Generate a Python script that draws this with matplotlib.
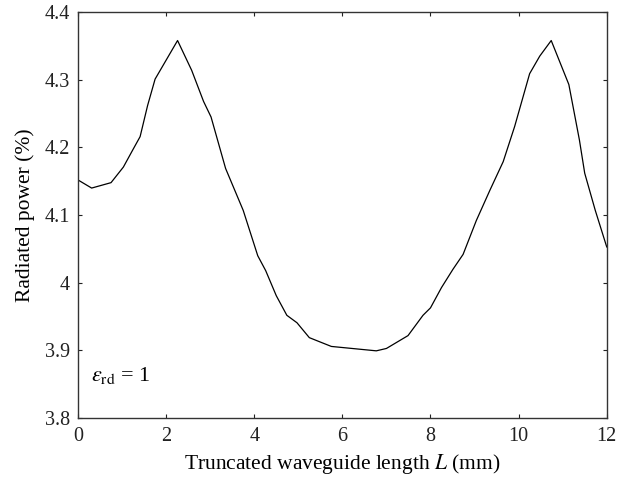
import numpy as np
import matplotlib
matplotlib.use("Agg")
from matplotlib import pyplot as plt

# Data
length_mm = [0.0, 0.31, 0.75, 1.03, 1.24, 1.41, 1.58, 1.75, 2.26, 2.58, 2.85, 3.02,
             3.35, 3.75, 4.08, 4.26, 4.50, 4.74, 4.97, 5.25, 5.48, 5.75, 6.77, 7.0,
             7.49, 7.83, 8.0, 8.25, 8.51, 8.74, 9.04, 9.35, 9.65, 9.91, 10.25, 10.48,
             10.74, 11.14, 11.38, 11.5, 11.74, 12.0]
power_pct = [4.152, 4.140, 4.148, 4.171, 4.196, 4.216, 4.262, 4.301, 4.358, 4.314, 4.268, 4.245,
             4.169, 4.107, 4.040, 4.018, 3.981, 3.952, 3.941, 3.919, 3.913, 3.906, 3.8995, 3.903,
             3.922, 3.952, 3.963, 3.993, 4.020, 4.042, 4.092, 4.137, 4.179, 4.231, 4.309, 4.335,
             4.358, 4.293, 4.211, 4.162, 4.107, 4.053]
x_ticks = [0, 2, 4, 6, 8, 10, 12]
y_ticks = [3.8, 3.9, 4.0, 4.1, 4.2, 4.3, 4.4]
y_tick_labels = ['3.8', '3.9', '4', '4.1', '4.2', '4.3', '4.4']

plt.rcParams['font.family'] = ['Liberation Serif', 'DejaVu Serif']
plt.rcParams['mathtext.fontset'] = 'stix'

fig = plt.figure(figsize=(6.34, 4.84), dpi=100)
ax = fig.add_axes([0.123, 0.136, 0.834, 0.839])

ax.plot(length_mm, power_pct, color='black', linewidth=0.9)

ax.set_xlim(0, 12)
ax.set_ylim(3.8, 4.4)
ax.set_xticks(x_ticks)
ax.set_yticks(y_ticks)
ax.set_yticklabels(y_tick_labels)
ax.tick_params(direction='in', top=True, right=True, length=3, width=0.8,
               labelsize=14.5, colors='#222222')
ax.tick_params(axis='x', pad=6)
ax.tick_params(axis='y', pad=6)
for s in ax.spines.values():
    s.set_linewidth(1.0)
    s.set_color('#333333')

ax.set_xlabel('Truncated waveguide length $L$ (mm)', fontsize=15.5, labelpad=5)
ax.set_ylabel('Radiated power (%)', fontsize=15.5, labelpad=7)
ax.text(0.3, 3.855, r'$\varepsilon_{\rm rd}$ = 1', fontsize=16)

plt.savefig('out.png', dpi=100)
